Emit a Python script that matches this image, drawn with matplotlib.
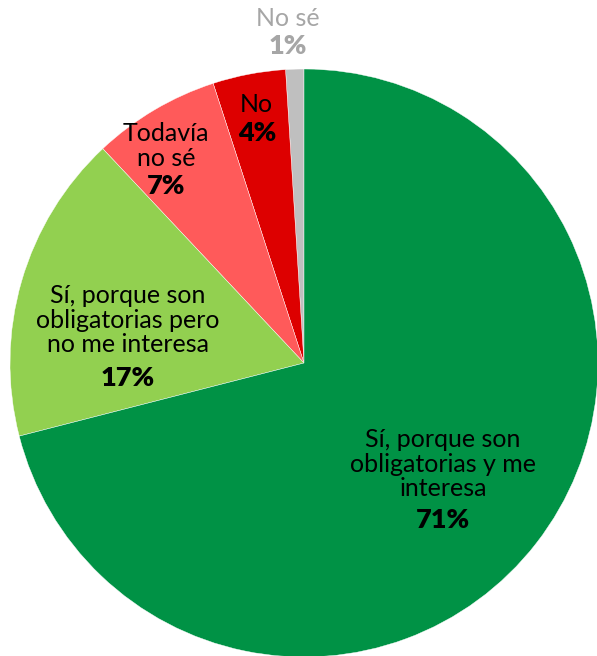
import matplotlib
matplotlib.use('Agg')
import matplotlib.pyplot as plt

# Daten
categorias = ['No sé', 'No', 'Todavía\nno sé',
              'Sí, porque son\nobligatorias pero\nno me interesa',
              'Sí, porque son\nobligatorias y me\ninteresa']
valores = [1, 4, 7, 17, 71]
colores = ['#BFBFBF', '#DD0000', '#FF5A5A', '#92D050', '#009245']

W, H = 597, 656
cx, cy, r = 304, 363, 294

fig = plt.figure(figsize=(W / 100, H / 100), dpi=100)
ax = fig.add_axes([(cx - r) / W, (H - cy - r) / H, 2 * r / W, 2 * r / H])
ax.pie(valores, colors=colores, startangle=90, counterclock=True,
       wedgeprops=dict(edgecolor='white', linewidth=0.3))
ax.set_xlim(-1, 1)
ax.set_ylim(-1, 1)

# Positionen der Beschriftungen (Pixel im Bild: Mitte Text, Mitte Prozent)
pos_text = [(288, 18), (256, 104), (166, 146), (128, 320), (443, 464)]
pos_pct = [(288, 46), (257, 133), (166, 186), (128, 378), (443, 520)]
farben_text = ['#A6A6A6', 'black', 'black', 'black', 'black']

font = 'Lato'
for cat, val, pt, pp, fc in zip(categorias, valores, pos_text, pos_pct, farben_text):
    ax.text((pt[0] - cx) / r, (cy - pt[1]) / r, cat, ha='center', va='center',
            fontsize=18, family=font, color=fc, linespacing=1.08, clip_on=False)
    ax.text((pp[0] - cx) / r, (cy - pp[1]) / r, f'{val}%', ha='center', va='center',
            fontsize=19.5, family=font, fontweight='heavy', color=fc, clip_on=False)

fig.savefig('out.png', dpi=100)
